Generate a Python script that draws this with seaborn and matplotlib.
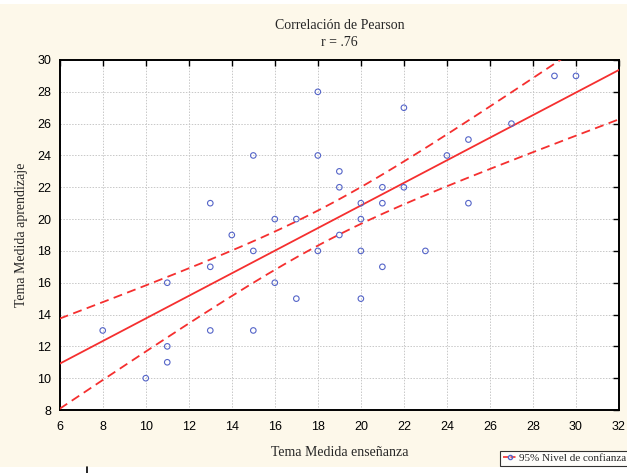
import numpy as np
import pandas as pd
import matplotlib
matplotlib.use("Agg")
import matplotlib.pyplot as plt
from matplotlib.lines import Line2D
from matplotlib.patches import Rectangle
import seaborn as sns

# Data
ensenanza = [8, 10, 11, 11, 11, 13, 13, 13, 14, 15, 15, 15, 16, 16, 17, 17,
             18, 18, 18, 19, 19, 19, 20, 20, 20, 20, 21, 21, 21, 22, 22, 23,
             24, 25, 25, 27, 29, 30]
aprendizaje = [13, 10, 16, 12, 11, 21, 17, 13, 19, 24, 18, 13, 20, 16, 20, 15,
               28, 24, 18, 23, 22, 19, 21, 20, 18, 15, 22, 21, 17, 27, 22, 18,
               24, 25, 21, 26, 29, 29]
x_ticks = list(range(6, 33, 2))
y_ticks = list(range(8, 31, 2))
title_text = "Correlación de Pearson\nr = .76"
x_label = "Tema Medida enseñanza"
y_label = "Tema Medida aprendizaje"
legend_label = "95% Nivel de confianza"

df = pd.DataFrame({"x": ensenanza, "y": aprendizaje})

sns.set_style("white")
plt.rcParams["font.family"] = ["Liberation Sans", "DejaVu Sans"]

W, H = 627, 473
fig = plt.figure(figsize=(W / 100, H / 100), dpi=100, facecolor="white")
cream = "#fdf8ea"
fig.patches.append(Rectangle((0, 1 - 467 / H), 1, (467 - 4) / H,
                             transform=fig.transFigure, facecolor=cream,
                             edgecolor="none", zorder=-10))
# small vertical stroke below the panel (as in the reference)
fig.add_artist(Line2D([86.5 / W, 86.5 / W], [0, 6 / H], color="black",
                      lw=1.2, transform=fig.transFigure))

left, right, top, bottom = 59.7, 619, 60, 410
ax = fig.add_axes([left / W, 1 - bottom / H, (right - left) / W, (bottom - top) / H])
ax.set_facecolor("white")
ax.set_xlim(6, 32)
ax.set_ylim(8, 30)

red = "#f52f2f"
blue = "#5565c8"

# regression line
sns.regplot(data=df, x="x", y="y", ax=ax, scatter=False, ci=None,
            truncate=False, line_kws=dict(color=red, lw=1.3, zorder=3))

# 95% confidence band for the mean (dashed)
xv = np.array(ensenanza, float)
yv = np.array(aprendizaje, float)
n = len(xv)
b, a = np.polyfit(xv, yv, 1)
resid = yv - (a + b * xv)
s = np.sqrt(np.sum(resid ** 2) / (n - 2))
sxx = np.sum((xv - xv.mean()) ** 2)
tval = 2.028  # t(0.975, 36)
xg = np.linspace(6, 32, 200)
se = s * np.sqrt(1 / n + (xg - xv.mean()) ** 2 / sxx)
yfit = a + b * xg
for band in (yfit + tval * se, yfit - tval * se):
    ax.plot(xg, band, color=red, lw=1.3, ls=(0, (5, 3)), zorder=3)

sns.scatterplot(data=df, x="x", y="y", ax=ax, marker="o", s=16,
                facecolor="none", edgecolor=blue, linewidth=0.8, zorder=4)

ax.set_xticks(x_ticks)
ax.set_yticks(y_ticks)
ax.grid(True, color="#c8c8c8", ls=(0, (1.5, 1.5)), lw=0.7)
ax.tick_params(direction="in", length=4, width=1, top=True, right=True,
               labelsize=9, colors="black")
ax.tick_params(axis="x", pad=8)
ax.tick_params(axis="y", pad=6)
for sp in ax.spines.values():
    sp.set_color("black")
    sp.set_linewidth(1.4)
ax.set_xlabel("")
ax.set_ylabel("")

serif = ["Liberation Serif", "DejaVu Serif"]
fig.text((left + right) / 2 / W, 1 - 34 / H, title_text, ha="center",
         va="center", family=serif, fontsize=10, linespacing=1.35)
fig.text((left + right) / 2 / W, 1 - 452 / H, x_label, ha="center",
         va="center", family=serif, fontsize=10)
fig.text(22 / W, 1 - 235 / H, y_label, ha="center", va="center",
         rotation=90, family=serif, fontsize=10)

handle = Line2D([], [], color=red, ls=(0, (3, 1.5)), lw=1.2, marker="o",
                markersize=3, mfc="none", mec=blue, markevery=[1])
leg = fig.legend([handle], [legend_label], loc="lower left",
                 bbox_to_anchor=(500 / W, 1 - 466 / H), frameon=True,
                 fancybox=False, prop=dict(family=serif, size=8),
                 handlelength=1.3, handletextpad=0.2, borderpad=0.25,
                 borderaxespad=0)
leg.get_frame().set_edgecolor("black")
leg.get_frame().set_linewidth(0.8)

fig.savefig("out.png", dpi=100, facecolor="white")
